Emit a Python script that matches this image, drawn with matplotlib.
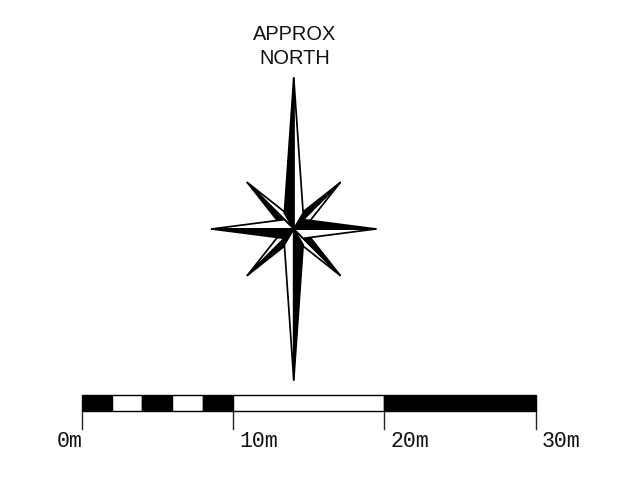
import numpy as np
import matplotlib
matplotlib.use("Agg")
import matplotlib.pyplot as plt
from matplotlib.patches import Polygon

# Scale bar, metres
seg_edges = [0, 2, 4, 6, 8, 10, 20, 30]
seg_colors = ["black", "white", "black", "white", "black", "white", "black"]
tick_positions = [0, 10, 20, 30]
tick_labels = ["0m", "10m", "20m", "30m"]
tick_label_centres = [-0.8, 1.7 + 10, 1.7 + 20, 1.65 + 30]

# Compass, metres
centre = (14.02, 11.99)
main_lengths = [9.97, 5.42, 9.97, 5.42]      # N, W, S, E
main_shoulder_along = [1.05, 0.62, 1.05, 0.62]
shoulder_lateral = 0.62
diag_tip = 3.07                              # per-axis offset of the diagonal tips
shoulder_near = 0.6
shoulder_far = 1.12
north_text = "APPROX\nNORTH"

PX_PER_M = 15.14
fig = plt.figure(figsize=(6.31, 4.79), dpi=100)
ax = fig.add_axes([0, 0, 1, 1])
ax.set_xlim(-81.5 / PX_PER_M, (631 - 81.5) / PX_PER_M)
ax.set_ylim(-(479 - 410.5) / PX_PER_M, 410.5 / PX_PER_M)
ax.axis("off")

LW = 1.25


def rot(points, quarter):
    c, s = np.cos(quarter * np.pi / 2), np.sin(quarter * np.pi / 2)
    pts = np.asarray(points, float)
    return np.column_stack([c * pts[:, 0] - s * pts[:, 1], s * pts[:, 0] + c * pts[:, 1]]) + centre


def half(points, colour, z):
    ax.add_patch(Polygon(points, closed=True, facecolor=colour, edgecolor="black",
                         linewidth=LW, joinstyle="round", zorder=z))


# Diagonal points first, black on the counter-clockwise side
for q in range(4):
    tip = (diag_tip, diag_tip)
    half(rot([(0, 0), tip, (shoulder_far, shoulder_near)], q), "white", 2)
    half(rot([(0, 0), tip, (shoulder_near, shoulder_far)], q), "black", 2)

# Main points on top
for q, (length, along) in enumerate(zip(main_lengths, main_shoulder_along)):
    tip = (0, length)
    half(rot([(0, 0), tip, (shoulder_lateral, along)], q), "white", 3)
    half(rot([(0, 0), tip, (-shoulder_lateral, along)], q), "black", 3)

ax.text(centre[0] + 0.07, 24.05, north_text, ha="center", va="center", ma="center",
        family="Liberation Sans", fontsize=14.4, linespacing=1.38, color="#111111")

# Scale bar
for left, right, colour in zip(seg_edges[:-1], seg_edges[1:], seg_colors):
    ax.bar(left, 1.0, width=right - left, bottom=0, align="edge", facecolor=colour,
           edgecolor="black", linewidth=1.0, zorder=2)

for pos, label, lc in zip(tick_positions, tick_labels, tick_label_centres):
    ax.plot([pos, pos], [0, -1.22], color="#222222", linewidth=1.0, zorder=1)
    ax.text(lc, -2.03, label, ha="center", va="center", family="Liberation Mono",
            fontsize=15.5, color="#111111")

fig.savefig("out.png", dpi=100)
